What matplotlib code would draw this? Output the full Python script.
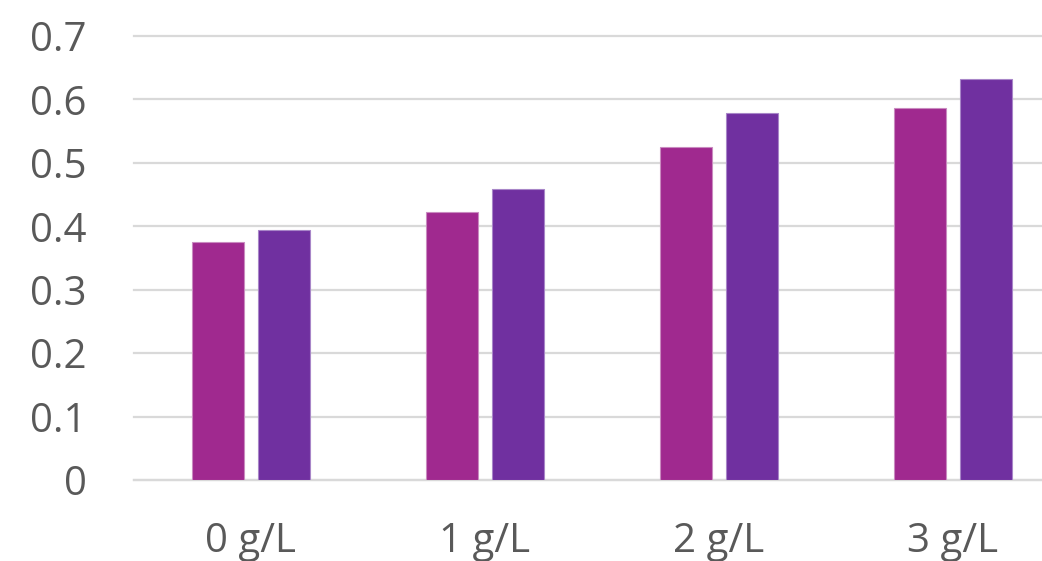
import matplotlib
matplotlib.use("Agg")
import matplotlib.pyplot as plt
import numpy as np

categories = ["0 g/L", "1 g/L", "2 g/L", "3 g/L"]
series_a = [0.375, 0.423, 0.525, 0.586]
series_b = [0.394, 0.458, 0.579, 0.632]
y_ticks = [0, 0.1, 0.2, 0.3, 0.4, 0.5, 0.6, 0.7]
y_tick_labels = ["0", "0.1", "0.2", "0.3", "0.4", "0.5", "0.6", "0.7"]

color_a = "#A0298F"
color_b = "#7030A0"
text_color = "#595959"
grid_color = "#D9D9D9"

plt.rcParams["font.family"] = ["Open Sans", "DejaVu Sans"]

W, H = 1042, 561
fig = plt.figure(figsize=(W / 100, H / 100), dpi=100)
left, right_px = 134, 134 + 4 * 234
bottom_px, top_px = 480, 36
ax = fig.add_axes([left / W, (H - bottom_px) / H,
                   (right_px - left) / W, (bottom_px - top_px) / H])

x = np.arange(len(categories))
width = 0.222
offset = 0.141
ax.bar(x - offset, series_a, width, color=color_a,
       edgecolor="#C98BC0", linewidth=0.8, zorder=3)
ax.bar(x + offset, series_b, width, color=color_b,
       edgecolor="#A886C8", linewidth=0.8, zorder=3)

ax.set_xlim(-0.5, len(categories) - 0.5)
ax.set_ylim(0, 0.7)
ax.set_yticks(y_ticks)
ax.set_yticklabels(y_tick_labels)
ax.set_xticks(x)
ax.set_xticklabels(categories)

ax.yaxis.grid(True, color=grid_color, linewidth=1.6, zorder=0, clip_on=False)
for gl in ax.get_ygridlines():
    gl.set_clip_on(False)
ax.set_axisbelow(True)

for s in ["top", "right", "left"]:
    ax.spines[s].set_visible(False)
ax.spines["bottom"].set_color(grid_color)
ax.spines["bottom"].set_linewidth(1.6)

ax.tick_params(axis="both", length=0, labelsize=29, colors=text_color)
ax.tick_params(axis="y", pad=34)
ax.tick_params(axis="x", pad=30)
for lbl in ax.get_yticklabels() + ax.get_xticklabels():
    lbl.set_color(text_color)

fig.savefig("out.png", dpi=100, facecolor="white")
